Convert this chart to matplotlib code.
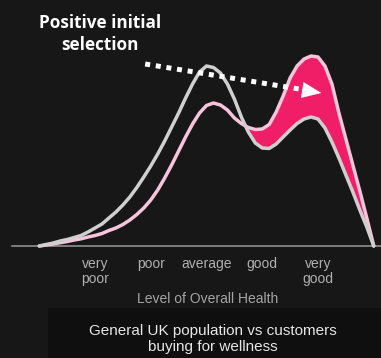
import matplotlib
matplotlib.use("Agg")
import matplotlib.pyplot as plt
from matplotlib.patches import Rectangle

# health level (1 = very poor ... 5 = very good) and relative share of people
health = [0.0, 0.125, 0.25, 0.375, 0.5, 0.625, 0.75, 0.875, 1.0, 1.125, 1.25,
          1.375, 1.5, 1.625, 1.75, 1.875, 2.0, 2.125, 2.25, 2.375, 2.5, 2.625,
          2.75, 2.875, 3.0, 3.125, 3.25, 3.375, 3.5, 3.625, 3.75, 3.875, 4.0,
          4.125, 4.25, 4.375, 4.5, 4.625, 4.75, 4.875, 5.0, 5.125, 5.25, 5.375,
          5.5, 5.625, 5.75, 5.875, 6.0]
uk_population = [0, 1.5, 3, 5, 6.5, 8.5, 10.5, 14, 18, 22, 28, 34, 41, 49, 58.5,
                 69, 80, 92, 105, 119, 133, 148, 162, 174, 180, 178.5, 173,
                 162, 147, 129, 114, 103, 98, 97.5, 102, 109, 116, 122.5, 127,
                 129, 127, 118, 104, 88, 71, 54, 36, 19, 0]
wellness_customers = [0, 1, 2, 3.3, 4.5, 6, 7.2, 9, 10.5, 12.5, 15.5, 18, 21.5,
                      26, 31.5, 38, 46, 56, 68, 81, 95, 109, 122, 133, 140.5,
                      143, 141, 136, 128, 122.5, 118.5, 116.5, 117, 121.5, 134,
                      150, 168, 180, 187, 190, 189, 180, 162, 133, 107, 81, 55,
                      28, 0]

tick_pos = [1, 2, 3, 4, 5]
tick_labels = ["very\npoor", "poor", "average", "good", "very\ngood"]

bg = "#171717"
fig = plt.figure(figsize=(3.81, 3.58), dpi=100, facecolor=bg)
ax = fig.add_axes([0, 0, 1, 1], facecolor=bg)
ax.set_xlim(-0.704, 6.13)
ax.set_ylim(-112, 246)

# caption panel at the bottom
fig.patches.append(Rectangle((48 / 381, 0), 1, 50 / 358, transform=fig.transFigure,
                             facecolor="#0f0f0f", edgecolor="none", zorder=0))

# gap between the two distributions
ax.fill_between(health, uk_population, wellness_customers,
                where=[c >= p for c, p in zip(wellness_customers, uk_population)],
                interpolate=True, color="#f01e66", lw=0, zorder=2)
ax.plot(health, wellness_customers, color="#f8c4da", lw=2.5, zorder=3,
        solid_joinstyle="round", solid_capstyle="round")
ax.plot(health, uk_population, color="#cfcfcf", lw=2.5, zorder=4,
        solid_joinstyle="round", solid_capstyle="round")

for s in ["top", "right", "left"]:
    ax.spines[s].set_visible(False)
ax.spines["bottom"].set_position(("data", 0))
ax.spines["bottom"].set_bounds(-0.49, 6.13)
ax.spines["bottom"].set_color("#9a9a9a")
ax.spines["bottom"].set_linewidth(1.1)
ax.spines["bottom"].set_zorder(1)
ax.set_yticks([])
ax.set_xticks(tick_pos, tick_labels, fontfamily="Liberation Sans", fontsize=10,
              color="#b0b0b0", linespacing=1.05)
ax.tick_params(axis="x", length=0, pad=8)

fig.text(208 / 381, 1 - 299 / 358, "Level of Overall Health", ha="center", va="center",
         fontfamily="Liberation Sans", fontsize=10, color="#a4a4a4")
fig.text(213 / 381, 1 - 339 / 358, "General UK population vs customers\nbuying for wellness",
         ha="center", va="center", fontfamily="Liberation Sans", fontsize=11,
         color="#e6e6e6", linespacing=1.1)

fig.text(100 / 381, 1 - 34 / 358, "Positive initial\nselection", ha="center", va="center",
         fontfamily="Open Sans", fontweight="bold", fontsize=12.3, color="white",
         linespacing=1.22)

# dotted pointer towards the customer peak
ax.annotate("", xy=(4.66, 157), xytext=(1.9, 182),
            arrowprops=dict(arrowstyle="-", color="white", lw=3.6,
                            linestyle=(0, (1, 1.15)), shrinkA=0, shrinkB=0,
                            capstyle="butt"), zorder=5)
ax.annotate("", xy=(5.06, 153), xytext=(4.72, 156),
            arrowprops=dict(arrowstyle="-|>,head_length=13,head_width=5.4",
                            mutation_scale=1, color="white", lw=0.5,
                            shrinkA=0, shrinkB=0), zorder=5)

fig.savefig("out.png", dpi=100, facecolor=bg)
